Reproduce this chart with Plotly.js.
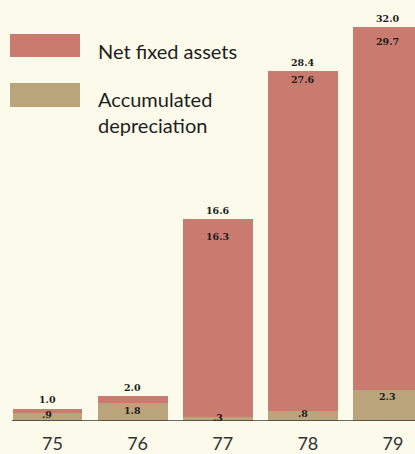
<!DOCTYPE html>
<html>
<head>
<meta charset="utf-8">
<script src="https://cdn.plot.ly/plotly-3.0.1.min.js"></script>
<style>
html,body{margin:0;padding:0;background:#fcfaea;}
#chart{width:415px;height:454px;}
</style>
</head>
<body>
<div id="chart"></div>
<script>
// ---- data ----
var years = ['75', '76', '77', '78', '79'];
var depreciation = [0.65, 1.5, 0.3, 0.8, 2.5];      // tan segment heights
var netAssets = [0.35, 0.5, 16.1, 27.6, 29.5];      // pink segment heights
var totalLabels = ['1.0', '2.0', '16.6', '28.4', '32.0'];
var netLabels = ['.9', '1.8', '16.3', '27.6', '29.7'];
var depLabels = ['', '', '.3', '.8', '2.3'];
var legendNames = ['Net fixed assets', 'Accumulated<br>depreciation'];

// ---- style ----
var PINK = '#c97b70';
var TAN = '#b9a47c';
var BG = '#fcfaea';
var netShift = [-6, -14, -17, -8, -14];
var depShift = [0, 0, 0, -2, -6];

var xIdx = years.map(function (_, i) { return i; });
var totals = xIdx.map(function (i) { return depreciation[i] + netAssets[i]; });

var traces = [
  { type: 'bar', x: xIdx, y: depreciation, marker: { color: TAN, line: { width: 0 } },
    width: 0.82, hoverinfo: 'skip', name: 'Accumulated depreciation' },
  { type: 'bar', x: xIdx, y: netAssets, marker: { color: PINK, line: { width: 0 } },
    width: 0.82, hoverinfo: 'skip', name: 'Net fixed assets' }
];

var labelFont = { family: 'DejaVu Serif', size: 9.5, color: '#1c1c1c', weight: 'bold' };
var ann = [];
xIdx.forEach(function (i) {
  ann.push({ x: i, y: totals[i], xref: 'x', yref: 'y', text: '<b>' + totalLabels[i] + '</b>',
    showarrow: false, yanchor: 'middle', yshift: 9, font: labelFont });
  ann.push({ x: i, y: totals[i], xref: 'x', yref: 'y', text: '<b>' + netLabels[i] + '</b>',
    showarrow: false, yanchor: 'middle', yshift: netShift[i], font: labelFont });
  if (depLabels[i]) {
    ann.push({ x: i, y: depreciation[i], xref: 'x', yref: 'y', text: '<b>' + depLabels[i] + '</b>',
      showarrow: false, yanchor: 'middle', yshift: depShift[i], font: labelFont });
  }
});

// legend drawn as shapes + text (paper coords, plot area spans full width)
var H = 454, B = 33, PH = H - B;
function py(pix) { return (H - B - pix) / PH; } // pixel y from top -> paper y
var legendFont = { family: 'Lato', size: 20, color: '#1e1e1e' };
var shapes = [
  { type: 'rect', xref: 'paper', yref: 'paper', x0: 10 / 415, x1: 80 / 415, y0: py(57), y1: py(34),
    fillcolor: PINK, line: { width: 0 } },
  { type: 'rect', xref: 'paper', yref: 'paper', x0: 10 / 415, x1: 80 / 415, y0: py(107), y1: py(83),
    fillcolor: TAN, line: { width: 0 } },
  { type: 'line', xref: 'x', yref: 'y', x0: -0.42, x1: 4.318, y0: 0, y1: 0,
    line: { color: '#3a3a3a', width: 1.5 } }
];
ann.push({ xref: 'paper', yref: 'paper', x: 96 / 415, y: py(51), xanchor: 'left', yanchor: 'middle',
  text: legendNames[0], showarrow: false, font: legendFont });
ann.push({ xref: 'paper', yref: 'paper', x: 96 / 415, y: py(112), xanchor: 'left', yanchor: 'middle',
  text: legendNames[1], showarrow: false, font: legendFont, align: 'left' });

var layout = {
  width: 415, height: 454,
  margin: { l: 0, r: 0, t: 0, b: B, pad: 0 },
  paper_bgcolor: BG, plot_bgcolor: BG,
  barmode: 'stack', bargap: 0,
  showlegend: false,
  xaxis: { range: [-0.558, 4.318], tickmode: 'array', tickvals: xIdx, ticktext: years,
    showgrid: false, zeroline: false, showline: false, ticks: '', ticklabelshift: 5,
    ticklabelstandoff: 10,
    tickfont: { family: 'Lato', size: 18, color: '#333333' }, fixedrange: true },
  yaxis: { range: [0, 34.2], showgrid: false, zeroline: false, showline: false,
    showticklabels: false, ticks: '', fixedrange: true },
  shapes: shapes,
  annotations: ann
};

Plotly.newPlot('chart', traces, layout, { displayModeBar: false, staticPlot: true });
</script>
</body>
</html>
